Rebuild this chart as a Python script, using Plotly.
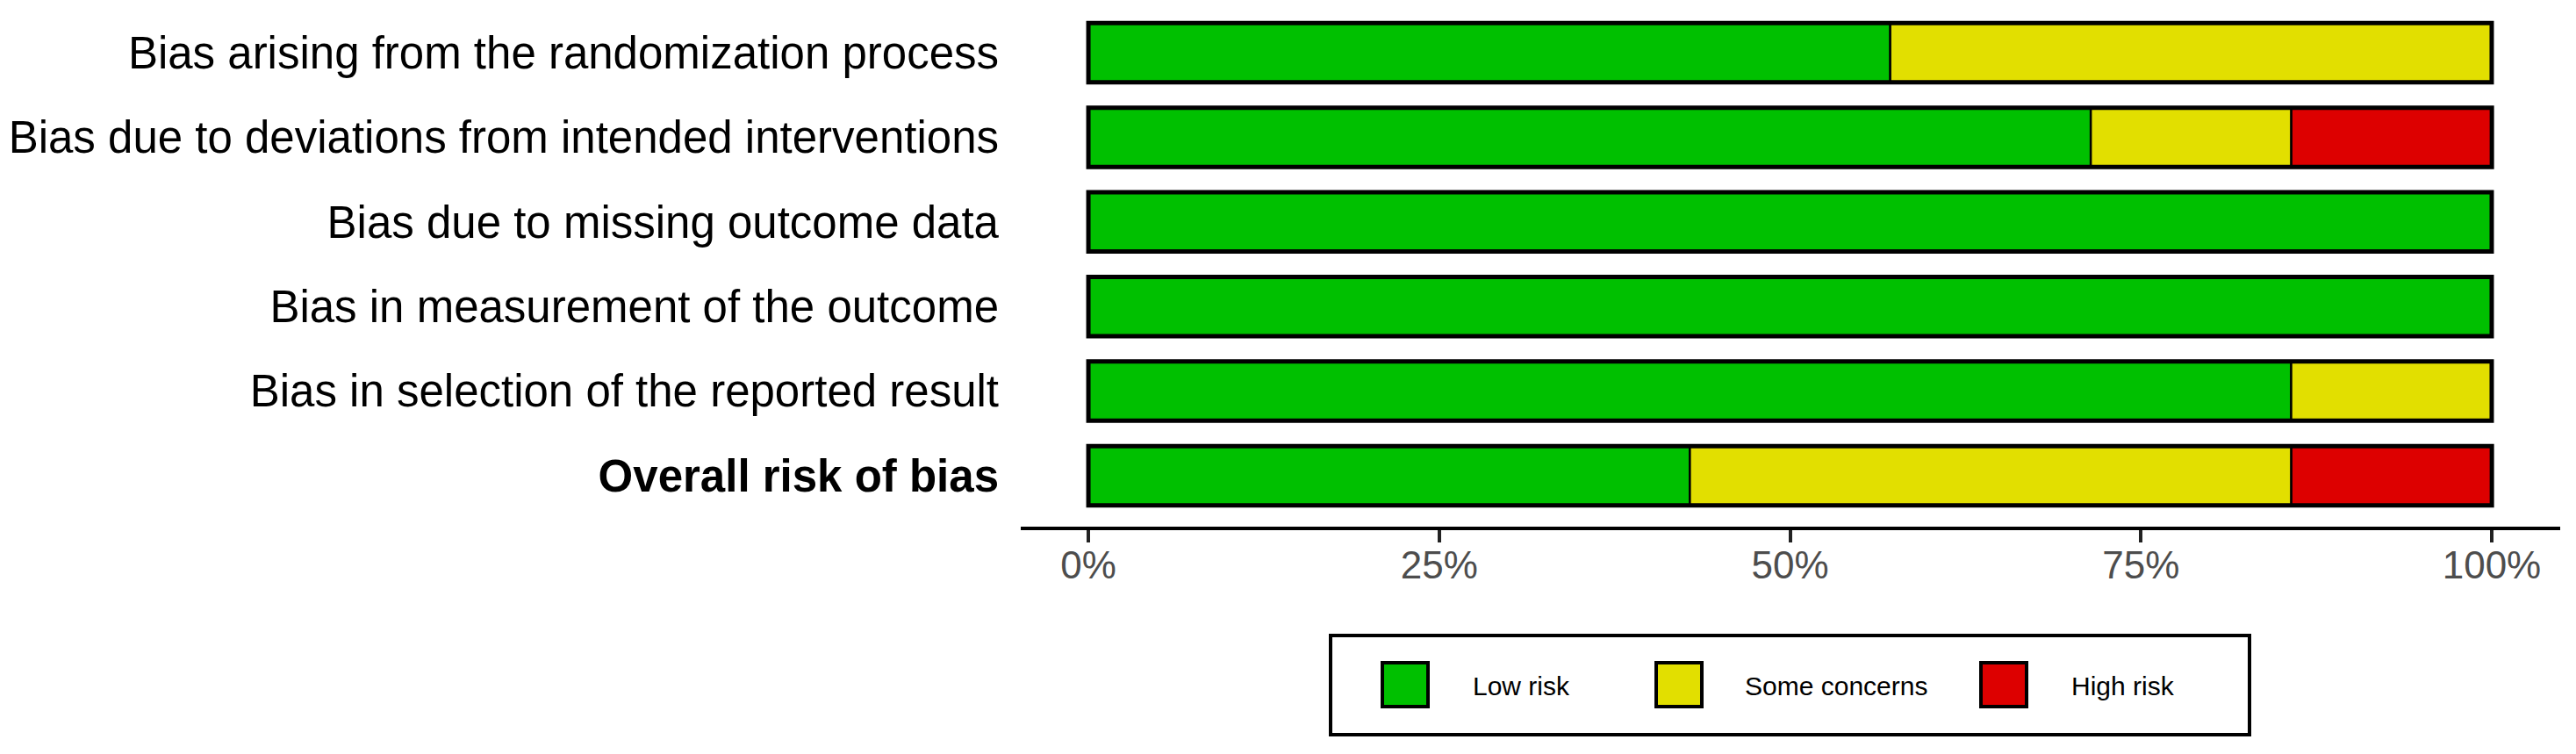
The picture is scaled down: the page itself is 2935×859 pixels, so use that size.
import plotly.graph_objects as go

# ---------------- data ----------------
domains = [
    "Bias arising from the randomization process",
    "Bias due to deviations from intended interventions",
    "Bias due to missing outcome data",
    "Bias in measurement of the outcome",
    "Bias in selection of the reported result",
    "Overall risk of bias",
]
judgements = ["Low risk", "Some concerns", "High risk"]
low = [57.14, 71.43, 100.0, 100.0, 85.71, 42.86]
some = [42.86, 14.29, 0.0, 0.0, 14.29, 42.86]
high = [0.0, 14.29, 0.0, 0.0, 0.0, 14.29]
colors = ["#00C000", "#E2DF00", "#DD0000"]
xtick_vals = [0, 25, 50, 75, 100]
xtick_text = ["0%", "25%", "50%", "75%", "100%"]

# ---------------- figure geometry ----------------
OFF = 8  # page body margin
W, H = 2935 - 2 * OFF, 859 - 2 * OFF
ML, MR, MT, MB = 1155, 10, 0, 251
PW, PH = W - ML - MR, H - MT - MB
FONT = "Liberation Sans, Arial, Helvetica, sans-serif"

series = [low, some, high]
bases = []
running = [0.0] * len(domains)
for s in series:
    bases.append(list(running))
    running = [r + v for r, v in zip(running, s)]
totals = running

fig = go.Figure()
for name, vals, base, col in zip(judgements, series, bases, colors):
    fig.add_trace(go.Bar(
        y=domains, x=vals, base=base, orientation="h", name=name,
        width=0.7, marker=dict(color=col, line=dict(color="black", width=2.5)),
        hoverinfo="skip", showlegend=False,
    ))
# outer outline of each bar
fig.add_trace(go.Bar(
    y=domains, x=totals, base=[0.0] * len(domains), orientation="h",
    width=0.7, marker=dict(color="rgba(0,0,0,0)", line=dict(color="black", width=5)),
    hoverinfo="skip", showlegend=False,
))

ticktext = domains[:-1] + ["<b>" + domains[-1] + "</b>"]

fig.update_layout(
    width=W, height=H,
    margin=dict(l=ML, r=MR, t=MT, b=MB, pad=0),
    barmode="overlay",
    plot_bgcolor="white", paper_bgcolor="white",
    showlegend=False,
    font=dict(family=FONT, color="black"),
    xaxis=dict(
        range=[-4.82, 104.88], tickvals=xtick_vals, ticktext=xtick_text,
        showline=True, linecolor="black", linewidth=4,
        ticks="outside", ticklen=14, tickwidth=4, tickcolor="#222222",
        tickfont=dict(size=44, color="#4D4D4D", family=FONT),
        ticklabelstandoff=-12,
        showgrid=False, zeroline=False, fixedrange=True,
    ),
    yaxis=dict(
        type="category", categoryorder="array", categoryarray=domains,
        range=[5.6017, -0.5394], tickvals=domains, ticktext=ticktext,
        showline=False, ticks="", showgrid=False, zeroline=False,
        tickfont=dict(size=51, color="black", family=FONT),
        ticklabelstandoff=24, fixedrange=True,
    ),
)

# ---------------- custom legend (page pixel layout -> paper coords) ----------------
def px_x(px):
    return (px - OFF - ML) / PW

def px_y(py):
    return (H - MB - (py - OFF)) / PH

box = dict(x0=1516, x1=2563, y0=724, y1=837)
key_left = [1575, 1887, 2257]
key_w, key_top, key_bot = 52, 755, 805
text_left = [1676, 1986, 2358]
text_y = 781

fig.add_shape(type="rect", xref="paper", yref="paper",
              x0=px_x(box["x0"]), x1=px_x(box["x1"]),
              y0=px_y(box["y1"]), y1=px_y(box["y0"]),
              line=dict(color="black", width=4), fillcolor="white")
for name, col, kx, tx in zip(judgements, colors, key_left, text_left):
    fig.add_shape(type="rect", xref="paper", yref="paper",
                  x0=px_x(kx), x1=px_x(kx + key_w),
                  y0=px_y(key_bot), y1=px_y(key_top),
                  line=dict(color="black", width=4), fillcolor=col)
    fig.add_annotation(xref="paper", yref="paper", x=px_x(tx), y=px_y(text_y),
                       text=name, showarrow=False, xanchor="left", yanchor="middle",
                       font=dict(size=30, color="black", family=FONT))

fig.write_html("out.html", config={"displayModeBar": False})
